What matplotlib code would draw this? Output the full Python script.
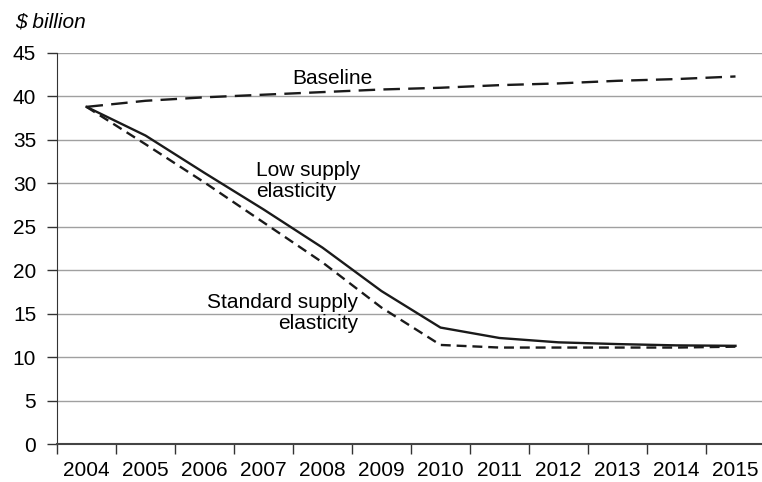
import matplotlib
matplotlib.use("Agg")
import matplotlib.pyplot as plt
import numpy as np

plt.rcParams['font.family'] = ['Liberation Sans', 'DejaVu Sans']

years = ["2004", "2005", "2006", "2007", "2008", "2009", "2010",
         "2011", "2012", "2013", "2014", "2015"]
baseline = [38.8, 39.5, 39.9, 40.2, 40.5, 40.8, 41.0, 41.3, 41.5, 41.8, 42.0, 42.3]
low_supply = [38.8, 35.5, 31.2, 27.0, 22.6, 17.6, 13.4, 12.2, 11.7, 11.5, 11.35, 11.3]
standard_supply = [38.8, 34.5, 30.1, 25.5, 20.9, 15.7, 11.4, 11.1, 11.1, 11.1, 11.1, 11.2]
yticks = [0, 5, 10, 15, 20, 25, 30, 35, 40, 45]

fs = 15
fig = plt.figure(figsize=(7.62, 4.82), dpi=100)
ax = fig.add_axes([57/762, 38/482, 708/762, 391/482])

x = np.arange(len(years))
lc = '#1a1a1a'
ax.plot(x, baseline, color=lc, lw=1.7, dashes=(7, 3.5))
ax.plot(x, standard_supply, color=lc, lw=1.7, dashes=(4.2, 2.5))
ax.plot(x, low_supply, color=lc, lw=1.7)

ax.set_xlim(-0.5, len(years) - 0.5)
ax.set_ylim(0, 45)
ax.set_yticks(yticks)
ax.set_yticklabels([str(v) for v in yticks], fontsize=fs)
ax.set_xticks(x)
ax.set_xticklabels(years, fontsize=fs)
ax.set_xticks(np.arange(len(years) + 1) - 0.5, minor=True)
ax.tick_params(axis='x', which='major', length=0, pad=12.5)
ax.tick_params(axis='x', which='minor', length=7, width=1, color='#333333', direction='out')
ax.tick_params(axis='y', length=7, width=1, color='#333333', direction='out', pad=8)
ax.grid(axis='y', color='#a0a0a0', lw=1)
ax.set_axisbelow(True)
for s in ['top', 'right']:
    ax.spines[s].set_visible(False)
ax.spines['left'].set_color('#333333')
ax.spines['bottom'].set_color('#444444')
ax.spines['bottom'].set_linewidth(1.5)

ax.text(4.16, 42.1, "Baseline", fontsize=fs, ha='center', va='center')
ax.text(2.87, 30.3, "Low supply\nelasticity", fontsize=fs, ha='left', va='center',
        linespacing=1.15, multialignment='left')
ax.text(4.60, 15.1, "Standard supply\nelasticity", fontsize=fs, ha='right', va='center',
        linespacing=1.15, multialignment='right')

fig.text(15/762, 1 - 22/482, r"\$ billion", fontsize=fs, style='italic', ha='left', va='center')

fig.savefig("out.png", dpi=100)
